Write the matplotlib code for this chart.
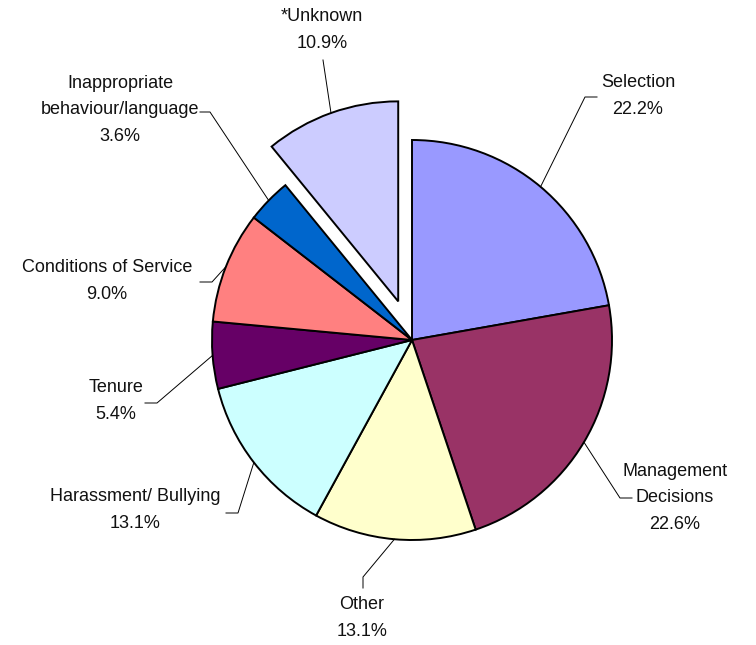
import matplotlib

matplotlib.use("Agg")

import matplotlib.pyplot as plt  # noqa: E402
import numpy as np  # noqa: E402

# ---------------------------------------------------------------------------
# Data
# ---------------------------------------------------------------------------

categories = [
    "Selection",
    "Management\nDecisions",
    "Other",
    "Harassment/ Bullying",
    "Tenure",
    "Conditions of Service",
    "Inappropriate\nbehaviour/language",
    "*Unknown",
]
shares = [22.2, 22.6, 13.1, 13.1, 5.4, 9.0, 3.6, 10.9]
colors = ["#9999FF", "#993366", "#FFFFCC", "#CCFFFF",
          "#660066", "#FF8080", "#0066CC", "#CCCCFF"]
explode_frac = [0, 0, 0, 0, 0, 0, 0, 0.205]

# Label layout in image pixels (y measured from top): leader elbow points
# and the centre of the text block.
W, H = 756, 645
RADIUS = 200
leader_pts = [
    [(585, 97), (597, 97)],
    [(620, 498), (632, 498)],
    [(363, 577), (363, 588)],
    [(238, 513), (226, 513)],
    [(157, 403), (145, 403)],
    [(212, 282), (200, 282)],
    [(210, 112), (200, 112)],
    [(323, 60)],
]
text_pos = [(638, 96), (675, 498), (362, 618), (135, 510),
            (116, 401), (107, 281), (120, 110), (322, 30)]

_TEXT_COLOR = "#111111"

plt.rcParams["font.family"] = ["Liberation Sans", "DejaVu Sans"]

fig = plt.figure(figsize=(W / 100, H / 100), dpi=100)
ax = fig.add_axes([0, 0, 1, 1])

# explode is in data units, so scale the fractions by the radius
wedges, _ = ax.pie(
    shares,
    colors=colors,
    explode=[f * RADIUS for f in explode_frac],
    startangle=90,
    counterclock=False,
    center=(412, H - 340),
    radius=RADIUS,
    frame=True,
    wedgeprops={"edgecolor": "black", "linewidth": 1.4},
)
ax.set_xlim(0, W)
ax.set_ylim(0, H)
ax.set_aspect("equal")
ax.axis("off")

for w, name, val, pts, (tx, ty) in zip(wedges, categories, shares, leader_pts, text_pos):
    mid = np.deg2rad((w.theta1 + w.theta2) / 2)
    cx, cy = w.center
    ex, ey = cx + w.r * np.cos(mid), cy + w.r * np.sin(mid)
    xs = [ex] + [p[0] for p in pts]
    ys = [ey] + [H - p[1] for p in pts]
    ax.plot(xs, ys, color="black", linewidth=0.7)
    ax.text(tx, H - ty, f"{name}\n{val:.1f}%", ha="center", va="center",
            multialignment="center", fontsize=13, linespacing=1.7,
            color=_TEXT_COLOR)

fig.savefig("out.png", dpi=100, facecolor="white")
plt.close(fig)
